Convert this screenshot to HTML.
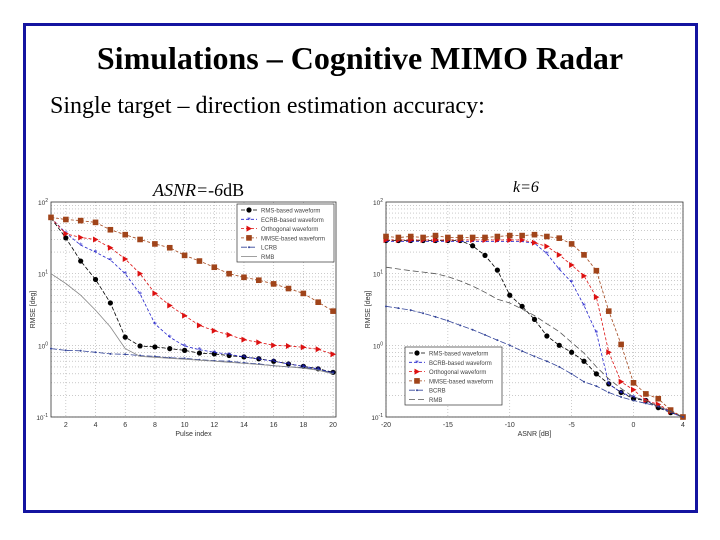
<!DOCTYPE html>
<html><head><meta charset="utf-8"><style>
body{margin:0;background:#fff;}
#slide{position:relative;width:720px;height:540px;overflow:hidden;background:#fff;font-family:"Liberation Serif",serif;}
#frame{position:absolute;left:23px;top:23px;width:669px;height:484px;border:3px solid #1414a0;}
#title{position:absolute;left:0;width:720px;top:40px;text-align:center;font-weight:bold;font-size:32px;color:#000;}
#sub{position:absolute;left:50px;top:93px;font-size:24px;color:#000;}
.ct{position:absolute;font-style:italic;font-size:15px;}
svg{position:absolute;left:0;top:0;}
</style></head><body>
<div id="slide">
<div id="frame"></div>
<div id="title">Simulations – Cognitive MIMO Radar</div>
<div id="sub">Single target – direction estimation accuracy:</div>
<div class="ct" style="left:153px;top:180px;font-size:18px">ASNR=-6<span style="font-style:normal">dB</span></div>
<div class="ct" style="left:513px;top:179px;font-size:16px">k=6</div>
<svg id="chart" width="720" height="540"></svg>
</div>
<script>
// Left chart data (pulse index)
const leftX=[1,2,3,4,5,6,7,8,9,10,11,12,13,14,15,16,17,18,19,20];
const leftRMS=[60,31.5,15,8.3,3.9,1.3,0.98,0.95,0.9,0.85,0.78,0.76,0.72,0.69,0.65,0.6,0.55,0.51,0.47,0.42];
const leftECRB=[60,37,25,20,15.5,10,5.2,2.0,1.3,0.98,0.87,0.8,0.75,0.69,0.64,0.6,0.55,0.51,0.47,0.41];
const leftOrth=[60,36,32,30,23,16,10,5.3,3.6,2.6,1.9,1.6,1.4,1.2,1.1,1.0,0.98,0.94,0.88,0.75];
const leftMMSE=[61,57,55,52,41,35,30,26,23,18,15,12.3,10,8.9,8.1,7.2,6.2,5.3,4.0,3.0];
const leftLCRB=[0.9,0.85,0.84,0.8,0.76,0.75,0.72,0.7,0.67,0.66,0.63,0.61,0.6,0.57,0.55,0.52,0.5,0.49,0.46,0.41];
const leftRMB=[10,7.3,5,3.1,1.8,0.9,0.7,0.68,0.66,0.64,0.62,0.6,0.58,0.56,0.54,0.52,0.5,0.48,0.45,0.4];
const leftTicks=[2,4,6,8,10,12,14,16,18,20];
// Right chart data (ASNR dB)
const rightX=[-20,-19,-18,-17,-16,-15,-14,-13,-12,-11,-10,-9,-8,-7,-6,-5,-4,-3,-2,-1,0,1,2,3,4];
const rightRMS=[29,29,29,29,29,29,29,24.5,18,11.2,5,3.5,2.3,1.35,1.0,0.8,0.6,0.4,0.29,0.22,0.18,0.17,0.135,0.115,0.1];
const rightBCRBw=[28,28,28,28,28,28,28,28,28,28,28,28,26.6,19,11.5,7.6,3.6,1.5,0.29,0.22,0.19,0.17,0.14,0.115,0.1];
const rightOrth=[29.5,29.5,29.5,29.5,29.5,29.5,29.5,29.5,29.5,29.5,29.5,29.5,27,24,18.3,13.2,9.3,4.7,0.8,0.31,0.24,0.17,0.15,0.12,0.1];
const rightMMSE=[33,32,33,32,34,32,32,32,32,33,34,34,35,33,31.3,26,18.3,11,3.0,1.03,0.3,0.21,0.18,0.125,0.1];
const rightBCRB=[3.5,3.3,3.1,2.8,2.5,2.2,1.9,1.65,1.4,1.18,1.0,0.83,0.7,0.6,0.5,0.4,0.31,0.27,0.22,0.19,0.17,0.155,0.14,0.12,0.1];
const rightRMB=[12.3,11.6,11,10.5,10,9.1,7.9,6.7,5.5,4.4,3.9,3.2,2.6,2.0,1.55,1.1,0.78,0.5,0.34,0.25,0.19,0.17,0.14,0.12,0.1];
const rightTicks=[-20,-15,-10,-5,0,4];

const NS="http://www.w3.org/2000/svg";
const svg=document.getElementById('chart');
function mk(t,a,p){const e=document.createElementNS(NS,t);for(const k in a)e.setAttribute(k,a[k]);(p||svg).appendChild(e);return e;}

function drawChart(cfg){
  const g=mk('g',{});
  
  
  const L=cfg.L,R=cfg.R,T=202,B=417;
  const sx=v=>L+(v-cfg.x0)/(cfg.x1-cfg.x0)*(R-L);
  const sy=v=>T+(2-Math.log10(v))/3*(B-T);
  mk('rect',{x:L,y:T,width:R-L,height:B-T,fill:'#fff',stroke:'none'},g);
  for(let d=-1;d<2;d++)for(let m=1;m<10;m++){const v=m*Math.pow(10,d);const y=sy(v);
    const ln=mk('line',{x1:L,x2:R,y1:y,y2:y,stroke:'#aaa','stroke-width':0.6,'stroke-dasharray':'1,2'},g);
    
    }
  cfg.ticks.forEach(t=>{const x=sx(t);
    const ln=mk('line',{x1:x,x2:x,y1:T,y2:B,stroke:'#aaa','stroke-width':0.6,'stroke-dasharray':'1,2'},g);
    
    
    const tx=mk('text',{x:x,y:B+10,'font-size':7,'text-anchor':'middle',fill:'#333','font-family':'Liberation Sans, sans-serif'},g);
    tx.textContent=t;
    
    });
  [2,1,0,-1].forEach(p=>{const y=sy(Math.pow(10,p));
    const tx=mk('text',{x:L-3,y:y+3,'font-size':6.5,'text-anchor':'end',fill:'#333','font-family':'Liberation Sans, sans-serif'},g);
    tx.textContent='10';const s=mk('tspan',{dy:-3,'font-size':5},tx);s.textContent=p;
    
    });
  mk('rect',{x:L,y:T,width:R-L,height:B-T,fill:'none',stroke:'#333','stroke-width':0.8},g);
  const xl=mk('text',{x:(L+R)/2,y:B+19,'font-size':7,'text-anchor':'middle',fill:'#333','font-family':'Liberation Sans, sans-serif'},g);
  xl.textContent=cfg.xlabel;
  
  
  const yl=mk('text',{x:0,y:0,'font-size':7,'text-anchor':'middle',fill:'#333','font-family':'Liberation Sans, sans-serif',transform:`translate(${L-16},${(T+B)/2}) rotate(-90)`},g);
  yl.textContent='RMSE [deg]';
  
  
  cfg.series.forEach(s=>{
    const pts=cfg.xs.map((x,i)=>sx(x).toFixed(1)+','+sy(s.v[i]).toFixed(1)).join(' ');
    const pl=mk('polyline',{points:pts,fill:'none',stroke:s.c,'stroke-width':0.8,'stroke-dasharray':s.dash||''},g);
    
    
    cfg.xs.forEach((x,i)=>{if(i<s.from)return;marker(g,s.m,sx(x),sy(s.v[i]),s.c,s.n);});
  });
  const lg=mk('g',{},g);
  
  
  mk('rect',{x:cfg.lx,y:cfg.ly,width:97,height:58,fill:'#fff',stroke:'#333','stroke-width':0.7},lg);
  cfg.series.forEach((s,i)=>{const y=cfg.ly+6+i*9.3;
    mk('line',{x1:cfg.lx+4,x2:cfg.lx+20,y1:y,y2:y,stroke:s.c,'stroke-width':0.8,'stroke-dasharray':s.dash||''},lg);
    marker(lg,s.m,cfg.lx+12,y,s.c,s.n);
    const t=mk('text',{x:cfg.lx+24,y:y+2.5,'font-size':6,fill:'#444','font-family':'Liberation Sans, sans-serif'},lg);
    t.textContent=s.label;
    
    });
}
function marker(g,m,x,y,c,n){let e;
  if(m==='o')e=mk('circle',{cx:x,cy:y,r:2.6,fill:c},g);
  else if(m==='s')e=mk('rect',{x:x-2.8,y:y-2.8,width:5.6,height:5.6,fill:c},g);
  else if(m==='>')e=mk('polygon',{points:`${x-2.5},${y-3} ${x+3},${y} ${x-2.5},${y+3}`,fill:c},g);
  else if(m==='*')e=mk('text',{x:x,y:y+3,'font-size':8,'text-anchor':'middle',fill:c},g),e.textContent='*';
  else if(m==='.')e=mk('circle',{cx:x,cy:y,r:1,fill:c},g);
  else return;
  
  }

drawChart({name:'left-chart',L:51,R:336,x0:1,x1:20.2,xs:leftX,ticks:leftTicks,xlabel:'Pulse index',lx:237,ly:204,
 series:[{n:'rms',label:'RMS-based waveform',v:leftRMS,c:'#000',m:'o',dash:'4,2',from:1},
 {n:'ecrb',label:'ECRB-based waveform',v:leftECRB,c:'#2222cc',m:'*',dash:'3,2',from:1},
 {n:'orthogonal',label:'Orthogonal waveform',v:leftOrth,c:'#dd1111',m:'>',dash:'3,2',from:1},
 {n:'mmse',label:'MMSE-based waveform',v:leftMMSE,c:'#a0441a',m:'s',dash:'3,2',from:0},
 {n:'lcrb',label:'LCRB',v:leftLCRB,c:'#334499',m:'.',dash:'6,2',from:0},
 {n:'rmb',label:'RMB',v:leftRMB,c:'#888',m:'',dash:'',from:0}]});
drawChart({name:'right-chart',L:386,R:683,x0:-20,x1:4,xs:rightX,ticks:rightTicks,xlabel:'ASNR [dB]',lx:405,ly:347,
 series:[{n:'rms',label:'RMS-based waveform',v:rightRMS,c:'#000',m:'o',dash:'4,2',from:0},
 {n:'bcrb-waveform',label:'BCRB-based waveform',v:rightBCRBw,c:'#2222cc',m:'*',dash:'3,2',from:0},
 {n:'orthogonal',label:'Orthogonal waveform',v:rightOrth,c:'#dd1111',m:'>',dash:'3,2',from:0},
 {n:'mmse',label:'MMSE-based waveform',v:rightMMSE,c:'#a0441a',m:'s',dash:'3,2',from:0},
 {n:'bcrb',label:'BCRB',v:rightBCRB,c:'#334499',m:'.',dash:'6,2',from:0},
 {n:'rmb',label:'RMB',v:rightRMB,c:'#555',m:'',dash:'6,3',from:0}]});
</script>
</body></html>
